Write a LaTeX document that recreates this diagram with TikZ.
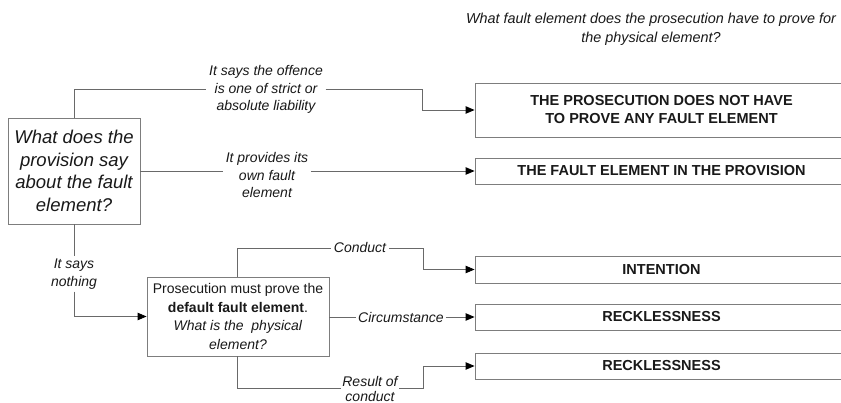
\documentclass[tikz,border=0pt]{standalone}
\usepackage{fontspec}
\setmainfont{Liberation Sans}
\usetikzlibrary{arrows.meta,calc}
\definecolor{lncol}{RGB}{105,105,105}
\definecolor{boxcol}{RGB}{125,125,125}
\definecolor{txtcol}{RGB}{25,25,25}
\tikzset{
  ln/.style={draw=lncol, line width=0.9pt},
  arr/.style={ln, -{Triangle[length=9pt,width=7.5pt,color=black]}},
  rbox/.style={draw=boxcol, line width=0.9pt, fill=white, minimum width=373pt, inner sep=0pt, align=center, text=txtcol,
    font=\fontsize{14.5}{18}\selectfont\bfseries},
  lbl/.style={fill=white, inner sep=2.5pt, align=center, text=txtcol, font=\fontsize{14}{17.5}\selectfont\itshape},
}
\begin{document}
\begin{tikzpicture}[x=1pt,y=-1pt]
\useasboundingbox (0,0) rectangle (841,403);
\fill[white] (0,0) rectangle (841,403);

% top heading
\node[align=center, text=txtcol, font=\fontsize{14.4}{19}\selectfont\itshape] (head) at (651,29)
  {What fault element does the prosecution have to prove for\\the physical element?};

% main question box
\node[draw=boxcol, line width=0.9pt, minimum width=132pt, minimum height=106pt, inner sep=0pt, align=center, text=txtcol,
  font=\fontsize{18.5}{22.5}\selectfont\itshape] (q) at (74,171)
  {What does the\\provision say\\about the fault\\element?};

% default box
\node[draw=boxcol, line width=0.9pt, minimum width=182pt, minimum height=79pt, inner sep=0pt, align=center, text=txtcol,
  font=\fontsize{14}{18.5}\selectfont] (d) at (238,316.5)
  {Prosecution must prove the\\\textbf{default fault element}.\\\textit{What is the\ \ physical}\\\textit{element?}};

% right boxes (run off the right edge)
\node[rbox, minimum height=54pt] (b1) at (661.5,110) {THE PROSECUTION DOES NOT HAVE\\TO PROVE ANY FAULT ELEMENT};
\node[rbox, minimum height=26pt] (b2) at (661.5,171) {THE FAULT ELEMENT IN THE PROVISION};
\node[rbox, minimum height=27pt] (b3) at (661.5,269.5) {INTENTION};
\node[rbox, minimum height=26pt] (b4) at (661.5,317) {RECKLESSNESS};
\node[rbox, minimum height=26pt] (b5) at (661.5,366) {RECKLESSNESS};

% labels
\node[lbl] (l1) at (266,89.5) {It says the offence\\is one of strict or\\absolute liability};
\node[lbl] (l2) at (267,175) {It provides its\\own fault\\element};
\node[lbl, inner sep=3pt] (l3) at (360,248) {Conduct};
\node[lbl, inner sep=2pt] (l4) at (401,317) {Circumstance};
\node[lbl] (l5) at (74,274) {It says\\nothing};
\node[lbl, inner sep=1.5pt, font=\fontsize{14}{15}\selectfont\itshape] (l6) at (370,388.5) {Result of\\conduct};

\coordinate (c1) at (422,89.5);
\coordinate (c3) at (423,248);
\coordinate (c6) at (423,388.5);

% connectors
\draw[ln] (q.north) |- (l1.west);
\draw[arr] (l1.east) -- (c1) |- (b1.west);
\draw[ln] (q.east) -- (q.east -| l2.west);
\draw[arr] (q.east -| l2.east) -- (b2.west);
\draw[ln] (q.south) -- (l5.north);
\draw[arr] (l5.south) |- (d.west);
\draw[ln] (d.north -| 237,0) |- (l3.west);
\draw[arr] (l3.east) -- (c3) |- (b3.west);
\draw[ln] (d.east |- 0,317) -- (l4.west);
\draw[arr] (l4.east) -- (b4.west);
\draw[ln] (d.south -| 237,0) |- (l6.west);
\draw[arr] (l6.east) -- (c6) |- (b5.west);
\end{tikzpicture}
\end{document}
